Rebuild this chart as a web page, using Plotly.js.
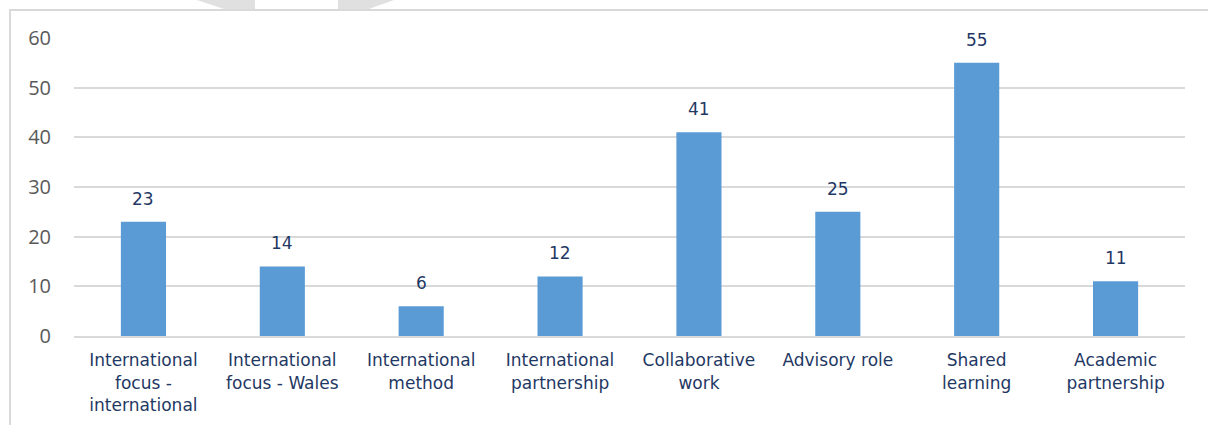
<!DOCTYPE html>
<html>
<head>
<meta charset="utf-8">
<script src="https://cdn.plot.ly/plotly-3.0.1.min.js"></script>
<style>
  html, body { margin: 0; padding: 0; background: #ffffff; }
  #wrap { position: relative; width: 1208px; height: 425px; overflow: hidden; }
  #frame { position: absolute; left: 9px; top: 9px; right: -5px; bottom: -5px;
           border-left: 2px solid #d9d9d9; border-top: 2px solid #d9d9d9; }
  #wm { position: absolute; left: 0; top: 0; }
  #chart { position: absolute; left: 0; top: 0; width: 1208px; height: 425px; }
</style>
</head>
<body>
<div id="wrap">
  <svg id="wm" width="1208" height="425">
    <polygon points="197,0 255,0 255,10 227,10" fill="#e0e0e0"/>
    <polygon points="338,0 394,0 366,10 338,10" fill="#e0e0e0"/>
  </svg>
  <div id="frame"></div>
  <div id="chart"></div>
</div>
<script>
const categories = [
  "International<br>focus -<br>international",
  "International<br>focus - Wales",
  "International<br>method",
  "International<br>partnership",
  "Collaborative<br>work",
  "Advisory role",
  "Shared<br>learning",
  "Academic<br>partnership"
];
const values = [23, 14, 6, 12, 41, 25, 55, 11];
const yTicks = [0, 10, 20, 30, 40, 50, 60];

const trace = {
  type: 'bar',
  x: categories,
  y: values,
  marker: { color: '#5b9bd5' },
  hoverinfo: 'none'
};

const annotations = categories.map((c, i) => ({
  x: c,
  y: values[i],
  xref: 'x',
  yref: 'y',
  text: String(values[i]),
  showarrow: false,
  yanchor: 'bottom',
  yshift: 11,
  font: { family: 'DejaVu Sans, Verdana, sans-serif', size: 17, color: '#1f3864' }
}));

const layout = {
  width: 1208,
  height: 425,
  margin: { l: 74, r: 23, t: 38, b: 89 },
  paper_bgcolor: 'rgba(0,0,0,0)',
  plot_bgcolor: 'rgba(0,0,0,0)',
  bargap: 0.675,
  showlegend: false,
  annotations: annotations,
  xaxis: {
    tickfont: { family: 'DejaVu Sans, Verdana, sans-serif', size: 17, color: '#1f3864' },
    showline: true,
    linecolor: '#d9d9d9',
    linewidth: 2,
    ticks: '',
    showgrid: false,
    ticklabelstandoff: 8,
    fixedrange: true
  },
  yaxis: {
    range: [0, 60],
    tickvals: yTicks,
    ticktext: yTicks.map(String),
    tickfont: { family: 'Open Sans, sans-serif', size: 20, color: '#595959' },
    showgrid: true,
    gridcolor: '#d9d9d9',
    gridwidth: 2,
    zeroline: false,
    showline: false,
    ticks: '',
    ticklabelstandoff: 22,
    fixedrange: true
  }
};

Plotly.newPlot('chart', [trace], layout, { displayModeBar: false, staticPlot: true });
</script>
</body>
</html>
